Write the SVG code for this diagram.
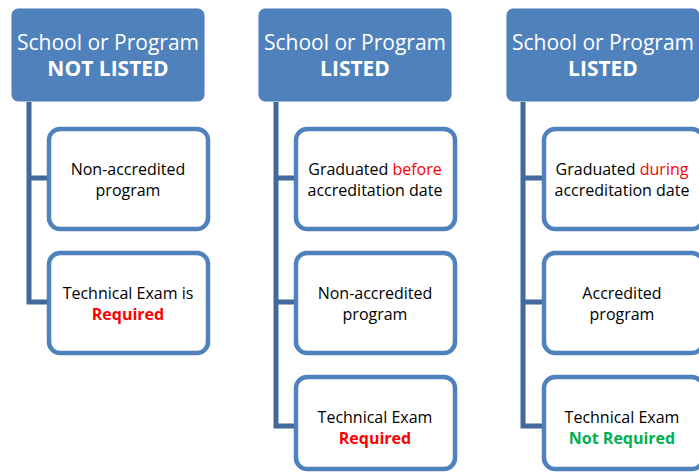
<svg xmlns="http://www.w3.org/2000/svg" width="699" height="473" viewBox="0 0 699 473">
<style>
.hdr{fill:#4f81bd;stroke:#4a7ab3;stroke-width:1}
.box{fill:#fff;stroke:#4f81bd;stroke-width:4.5}
.conn{fill:none;stroke:#41699b;stroke-width:5}
.ht{font-family:"Open Sans","Liberation Sans",sans-serif;font-size:21px;fill:#fff;text-anchor:middle}
.hb{font-weight:bold}
.t{font-family:"Open Sans","Liberation Sans",sans-serif;font-size:16px;fill:#000;text-anchor:middle}
.red{fill:#ff0000}
.grn{fill:#00b050}
</style>
<rect width="699" height="473" fill="#fff"/>
<g id="connectors">
<path class="conn" d="M29 102 V302 H49 M29 178 H49"/>
<path class="conn" d="M276 102 V426 H296 M276 178 H296 M276 302 H296"/>
<path class="conn" d="M523 102 V426 H544 M523 178 H544 M523 302 H544"/>
</g>
<g id="h1"><rect class="hdr" x="12" y="9" width="192" height="92" rx="6"/>
<text class="ht" x="108" y="50">School or Program</text><text class="ht hb" x="108" y="76">NOT LISTED</text></g>
<g id="h2"><rect class="hdr" x="259" y="9" width="192" height="92" rx="6"/>
<text class="ht" x="355" y="50">School or Program</text><text class="ht hb" x="355" y="76">LISTED</text></g>
<g id="h3"><rect class="hdr" x="507" y="9" width="192" height="92" rx="6"/>
<text class="ht" x="603" y="50">School or Program</text><text class="ht hb" x="603" y="76">LISTED</text></g>

<g id="c1a"><rect class="box" x="49" y="129" width="159" height="100" rx="11"/>
<text class="t" x="128" y="175">Non-accredited</text><text class="t" x="128" y="196">program</text></g>
<g id="c1b"><rect class="box" x="49" y="253" width="159" height="100" rx="11"/>
<text class="t" x="128" y="299">Technical Exam is</text><text class="t hb red" x="128" y="320">Required</text></g>

<g id="c2a"><rect class="box" x="296" y="129" width="159" height="100" rx="11"/>
<text class="t" x="375" y="175">Graduated <tspan class="red">before</tspan></text><text class="t" x="375" y="196">accreditation date</text></g>
<g id="c2b"><rect class="box" x="296" y="253" width="159" height="100" rx="11"/>
<text class="t" x="375" y="299">Non-accredited</text><text class="t" x="375" y="320">program</text></g>
<g id="c2c"><rect class="box" x="296" y="377" width="159" height="92" rx="11"/>
<text class="t" x="375" y="423">Technical Exam</text><text class="t hb red" x="375" y="444">Required</text></g>

<g id="c3a"><rect class="box" x="544" y="129" width="159" height="100" rx="11"/>
<text class="t" x="622" y="175">Graduated <tspan class="red">during</tspan></text><text class="t" x="622" y="196">accreditation date</text></g>
<g id="c3b"><rect class="box" x="544" y="253" width="159" height="100" rx="11"/>
<text class="t" x="622" y="299">Accredited</text><text class="t" x="622" y="320">program</text></g>
<g id="c3c"><rect class="box" x="544" y="377" width="159" height="92" rx="11"/>
<text class="t" x="622" y="423">Technical Exam</text><text class="t hb grn" x="622" y="444">Not Required</text></g>
</svg>
